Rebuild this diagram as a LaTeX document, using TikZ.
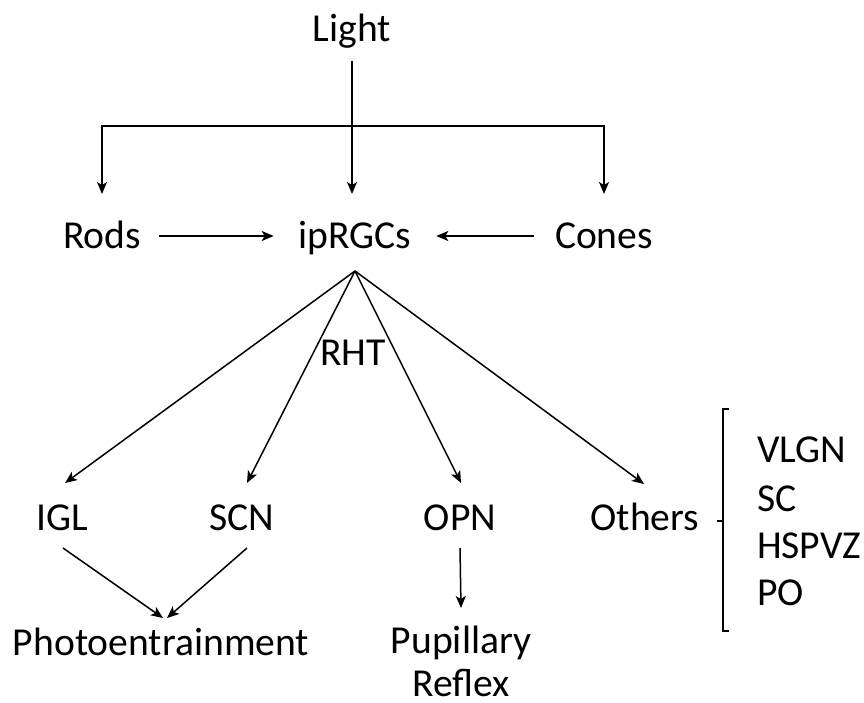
\documentclass[tikz,border=0pt]{standalone}
\usepackage{fontspec}
\setmainfont{Carlito}
\usetikzlibrary{arrows.meta,calc}
\begin{document}
\begin{tikzpicture}[x=1pt,y=-1pt,
  lbl/.style={inner sep=0pt,outer sep=0pt,anchor=base,text height=27pt,text depth=9pt,
    font=\fontsize{39.6}{47.5}\selectfont},
  ln/.style={line width=1.5pt},
  arr/.style={ln,-{Stealth[length=12pt,width=10pt,inset=3pt]}}]
\useasboundingbox (0,0) rectangle (864,702);
% nodes
\node[lbl] (light) at (352,41) {Light};
\node[lbl] (rods) at (102,248) {Rods};
\node[lbl] (iprgc) at (355,248) {ipRGCs};
\node[lbl] (cones) at (604,248) {Cones};
\node[lbl] (rht) at (353,365) {RHT};
\node[lbl] (igl) at (62,530) {IGL};
\node[lbl] (scn) at (242,530) {SCN};
\node[lbl] (opn) at (460,530) {OPN};
\node[lbl] (others) at (645,530) {Others};
\node[lbl] (photo) at (161,655) {Photoentrainment};
\node[inner sep=0pt,outer sep=0pt,anchor=north,align=center,
  font=\fontsize{39.6}{43}\selectfont] (pupil) at (461,626) {Pupillary\\Reflex};
\node[lbl,anchor=base west] (vlgn) at (757,462) {VLGN};
\node[lbl,anchor=base west] (sc) at (757,511) {SC};
\node[lbl,anchor=base west] (hspvz) at (757,558) {HSPVZ};
\node[lbl,anchor=base west] (po) at (757,605) {PO};
% top connectors
\coordinate (branch) at (352,126);
\draw[arr,shorten <=11pt,shorten >=27pt] (light.south) -- (iprgc.north -| light.south);
\draw[arr,shorten >=27pt] (branch) -| (rods.north);
\draw[arr,shorten >=27pt] (branch) -| (cones.north);
\draw[arr,shorten <=18pt,shorten >=25pt] ([yshift=3pt]rods.east) -- ([yshift=3pt]iprgc.west);
\draw[arr,shorten <=21pt,shorten >=25pt] ([yshift=3pt]cones.west) -- ([yshift=3pt]iprgc.east);
% fan out
\coordinate (hub) at ([yshift=-14pt]iprgc.south);
\draw[arr] (hub) -- ([xshift=3pt,yshift=20pt]igl.north);
\draw[arr] (hub) -- ([xshift=5pt,yshift=20pt]scn.north);
\draw[arr] (hub) -- ([xshift=1pt,yshift=20pt]opn.north);
\draw[arr] (hub) -- ([xshift=-1pt,yshift=19pt]others.north);
% bottom
\draw[arr] ([xshift=1pt,yshift=-9pt]igl.south) -- ([xshift=2pt,yshift=10pt]photo.north);
\draw[arr] ([xshift=5pt,yshift=-9pt]scn.south) -- ([xshift=6pt,yshift=10pt]photo.north);
\draw[arr] ([yshift=-9pt]opn.south) -- ([yshift=18pt]pupil.north);
% bracket
\coordinate (btop) at (723,409);
\coordinate (bbot) at (723,631);
\draw[ln] ([xshift=6pt]btop) -- (btop) -- (bbot) -- ([xshift=6pt]bbot);
\draw[ln] ([xshift=18pt]others.east) -- (others.east -| btop);
\end{tikzpicture}
\end{document}
